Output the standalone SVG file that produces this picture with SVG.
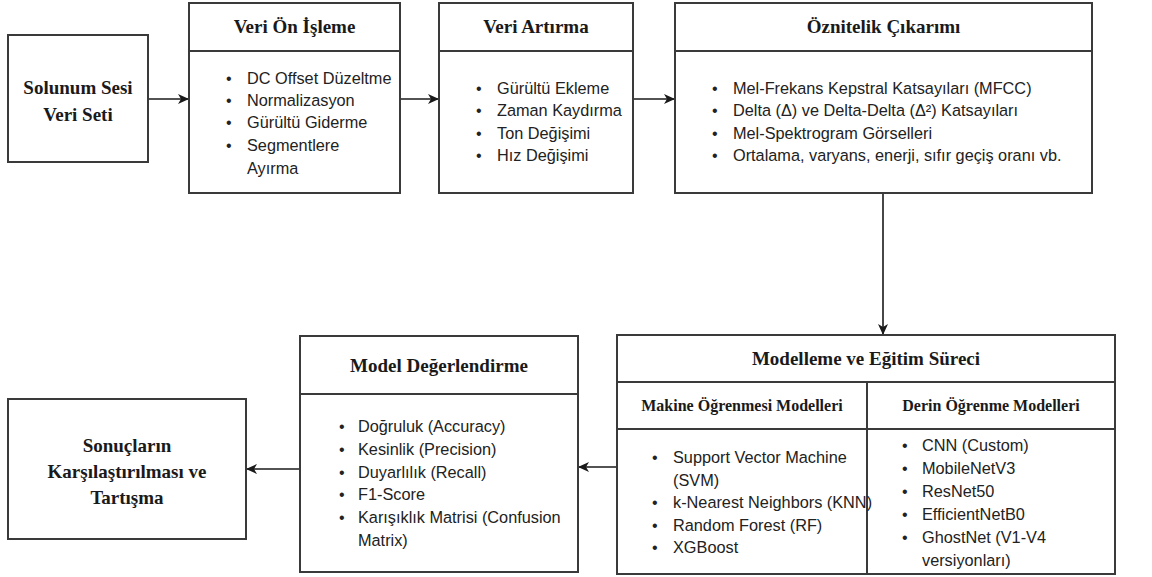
<svg xmlns="http://www.w3.org/2000/svg" width="1152" height="577" viewBox="0 0 1152 577">
<style>
.box{fill:#fff;stroke:#3a3a3a;stroke-width:2}
.sep{stroke:#3a3a3a;stroke-width:2;fill:none}
.hd{font-family:"Liberation Serif","Times New Roman",serif;font-weight:bold;font-size:19px;fill:#1a1a1a;text-anchor:middle}
.sh{font-family:"Liberation Serif","Times New Roman",serif;font-weight:bold;font-size:16px;fill:#1a1a1a;text-anchor:middle}
.tx{font-family:"Liberation Sans",Arial,sans-serif;font-size:16.3px;fill:#222}
.bl{font-family:"Liberation Sans",Arial,sans-serif;font-size:16px;fill:#222}
.cn{stroke:#1a1a1a;stroke-width:1.6;fill:none;marker-end:url(#ah)}
</style>
<defs>
<marker id="ah" markerUnits="userSpaceOnUse" markerWidth="12" markerHeight="10" refX="11" refY="5" orient="auto">
<path d="M0,0 L11,5 L0,10 L3,5 Z" fill="#1a1a1a"/>
</marker>
</defs>

<g id="connectors">
<line class="cn" x1="148" y1="99" x2="189" y2="99"/>
<line class="cn" x1="400" y1="99" x2="439" y2="99"/>
<line class="cn" x1="633" y1="99" x2="675" y2="99"/>
<line class="cn" x1="883" y1="193" x2="883" y2="335"/>
<line class="cn" x1="617" y1="467" x2="578" y2="467"/>
<line class="cn" x1="300" y1="469" x2="246" y2="469"/>
</g>

<g id="node-solunum">
<rect class="box" x="8" y="35" width="140" height="127"/>
<text class="hd" x="78" y="94">Solunum Sesi</text>
<text class="hd" x="78" y="121">Veri Seti</text>
</g>

<g id="node-on-isleme">
<rect class="box" x="189" y="3" width="211" height="190"/>
<line class="sep" x1="189" y1="51" x2="400" y2="51"/>
<text class="hd" x="294.5" y="33">Veri Ön İşleme</text>
<text class="bl" x="226" y="84">•</text><text class="tx" x="247" y="84">DC Offset Düzeltme</text>
<text class="bl" x="226" y="106">•</text><text class="tx" x="247" y="106">Normalizasyon</text>
<text class="bl" x="226" y="128">•</text><text class="tx" x="247" y="128">Gürültü Giderme</text>
<text class="bl" x="226" y="151">•</text><text class="tx" x="247" y="151">Segmentlere</text>
<text class="tx" x="247" y="174">Ayırma</text>
</g>

<g id="node-artirma">
<rect class="box" x="439" y="3" width="194" height="190"/>
<line class="sep" x1="439" y1="51" x2="633" y2="51"/>
<text class="hd" x="536" y="33">Veri Artırma</text>
<text class="bl" x="476" y="94">•</text><text class="tx" x="497" y="94">Gürültü Ekleme</text>
<text class="bl" x="476" y="116">•</text><text class="tx" x="497" y="116">Zaman Kaydırma</text>
<text class="bl" x="476" y="139">•</text><text class="tx" x="497" y="139">Ton Değişimi</text>
<text class="bl" x="476" y="161">•</text><text class="tx" x="497" y="161">Hız Değişimi</text>
</g>

<g id="node-oznitelik">
<rect class="box" x="675" y="3" width="417" height="190"/>
<line class="sep" x1="675" y1="51" x2="1092" y2="51"/>
<text class="hd" x="883.5" y="33">Öznitelik Çıkarımı</text>
<text class="bl" x="712" y="94">•</text><text class="tx" x="733" y="94">Mel-Frekans Kepstral Katsayıları (MFCC)</text>
<text class="bl" x="712" y="116">•</text><text class="tx" x="733" y="116">Delta (Δ) ve Delta-Delta (Δ²) Katsayıları</text>
<text class="bl" x="712" y="139">•</text><text class="tx" x="733" y="139">Mel-Spektrogram Görselleri</text>
<text class="bl" x="712" y="161">•</text><text class="tx" x="733" y="161">Ortalama, varyans, enerji, sıfır geçiş oranı vb.</text>
</g>

<g id="node-modelleme">
<rect class="box" x="617" y="335" width="498" height="239"/>
<line class="sep" x1="617" y1="382" x2="1115" y2="382"/>
<line class="sep" x1="617" y1="429" x2="1115" y2="429"/>
<line class="sep" x1="867" y1="382" x2="867" y2="574"/>
<text class="hd" x="866" y="365">Modelleme ve Eğitim Süreci</text>
<text class="sh" x="742" y="411">Makine Öğrenmesi Modelleri</text>
<text class="sh" x="991" y="411">Derin Öğrenme Modelleri</text>
<text class="bl" x="652" y="463">•</text><text class="tx" x="673" y="463">Support Vector Machine</text>
<text class="tx" x="673" y="486">(SVM)</text>
<text class="bl" x="652" y="508">•</text><text class="tx" x="673" y="508">k-Nearest Neighbors (KNN)</text>
<text class="bl" x="652" y="531">•</text><text class="tx" x="673" y="531">Random Forest (RF)</text>
<text class="bl" x="652" y="553">•</text><text class="tx" x="673" y="553">XGBoost</text>
<text class="bl" x="902" y="451">•</text><text class="tx" x="922" y="451">CNN (Custom)</text>
<text class="bl" x="902" y="474">•</text><text class="tx" x="922" y="474">MobileNetV3</text>
<text class="bl" x="902" y="497">•</text><text class="tx" x="922" y="497">ResNet50</text>
<text class="bl" x="902" y="520">•</text><text class="tx" x="922" y="520">EfficientNetB0</text>
<text class="bl" x="902" y="543">•</text><text class="tx" x="922" y="543">GhostNet (V1-V4</text>
<text class="tx" x="922" y="566">versiyonları)</text>
</g>

<g id="node-degerlendirme">
<rect class="box" x="300" y="336" width="278" height="236"/>
<line class="sep" x1="300" y1="394" x2="578" y2="394"/>
<text class="hd" x="439" y="372">Model Değerlendirme</text>
<text class="bl" x="339" y="432">•</text><text class="tx" x="358" y="432">Doğruluk (Accuracy)</text>
<text class="bl" x="339" y="455">•</text><text class="tx" x="358" y="455">Kesinlik (Precision)</text>
<text class="bl" x="339" y="478">•</text><text class="tx" x="358" y="478">Duyarlılık (Recall)</text>
<text class="bl" x="339" y="500">•</text><text class="tx" x="358" y="500">F1-Score</text>
<text class="bl" x="339" y="523">•</text><text class="tx" x="358" y="523">Karışıklık Matrisi (Confusion</text>
<text class="tx" x="358" y="546">Matrix)</text>
</g>

<g id="node-sonuclar">
<rect class="box" x="8" y="399" width="238" height="140"/>
<text class="hd" x="127" y="452">Sonuçların</text>
<text class="hd" x="127" y="478">Karşılaştırılması ve</text>
<text class="hd" x="127" y="504">Tartışma</text>
</g>
</svg>
